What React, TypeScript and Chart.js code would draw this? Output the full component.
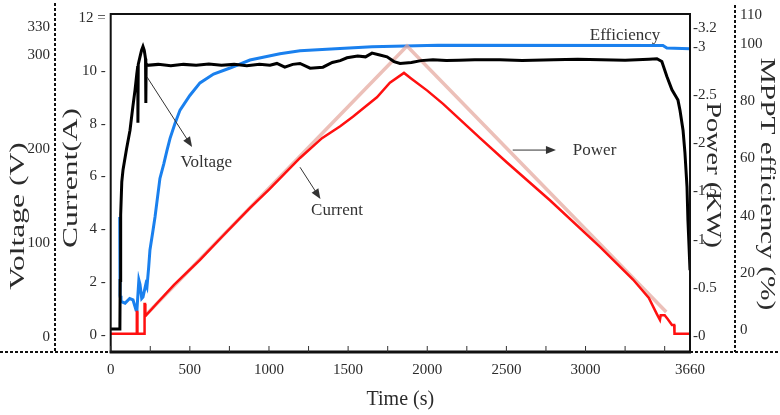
import React, { useEffect, useRef } from "react";
import { Chart, registerables } from "chart.js";
Chart.register(...registerables);

// ---- Data ----
const xTicks = [0, 250, 500, 750, 1000, 1250, 1500, 1750, 2000, 2250, 2500, 2750, 3000, 3250, 3500, 3660];
const xLabelled = [0, 500, 1000, 1500, 2000, 2500, 3000, 3660];
const voltageTicks = [0, 100, 200, 300, 330];
const currentTicks = [0, 2, 4, 6, 8, 10, 12];
const powerTicks = [0, 0.5, 1, 1.5, 2, 2.5, 3, 3.2];
const efficiencyTicks = [0, 20, 40, 60, 80, 100, 110];

const voltageTime = [0, 58, 60, 63, 70, 78, 100, 122, 140, 154, 165, 171, 172, 174, 185, 195, 204, 212, 220, 222, 224, 230, 300, 380, 460, 540, 620, 700, 780, 860, 940, 1006, 1050, 1100, 1150, 1196, 1260, 1341, 1400, 1450, 1493, 1560, 1610, 1651, 1700, 1746, 1790, 1828, 1900, 1960, 2036, 2120, 2200, 2300, 2459, 2600, 2800, 2950, 3100, 3250, 3400, 3451, 3482, 3514, 3546, 3584, 3597, 3616, 3628, 3641, 3647, 3654, 3660];
const voltageValues = [8.5, 8.5, 60, 130, 165, 178, 200, 220, 245, 263, 280, 288, 228, 290, 298, 305, 309, 305, 296, 249, 291, 289, 290, 288.5, 290, 289, 290.5, 289, 290, 288.5, 290, 289, 291, 287, 290, 291, 286, 287, 292, 294, 297, 299, 298, 302, 300, 298, 293, 291, 292, 294, 295, 294, 294.5, 295, 295, 294, 295, 295.5, 295, 294.5, 295.5, 296, 293, 277, 263, 252, 241, 220, 196, 160, 124, 96, 71];

const currentTime = [0, 164, 165, 168, 169, 212, 214, 217, 219, 300, 400, 564, 700, 880, 1000, 1196, 1335, 1450, 1530, 1600, 1682, 1764, 1853, 1900, 2000, 2100, 2334, 2500, 2775, 3093, 3300, 3400, 3450, 3470, 3475, 3500, 3520, 3546, 3560, 3562, 3660];
const currentValues = [0.05, 0.05, 0.87, 0.87, 0.05, 0.05, 1.17, 1.17, 0.72, 1.25, 1.9, 2.84, 3.7, 4.81, 5.5, 6.7, 7.45, 7.9, 8.26, 8.6, 9.0, 9.55, 9.92, 9.7, 9.25, 8.75, 7.45, 6.55, 5.1, 3.33, 2.1, 1.4, 0.8, 0.57, 0.75, 0.75, 0.6, 0.38, 0.38, 0.05, 0.05];

const powerTime = [217, 1872, 3510];
const powerValues = [0.21, 3.01, 0.25];

const efficiencyTime = [57, 59, 65, 91, 120, 141, 160, 166, 178, 185, 196, 204, 222, 229, 240, 248, 265, 280, 311, 335, 356, 375, 405, 438, 500, 564, 650, 754, 880, 1069, 1196, 1449, 1651, 2068, 3489, 3514, 3660];
const efficiencyValues = [39.5, 12, 10, 9.4, 11, 10.5, 7, 7.2, 17.5, 16, 11, 11.5, 16, 15, 22, 28, 34, 39.5, 53, 58, 62.9, 67, 72, 76.9, 82, 86.4, 89.5, 91.6, 94.4, 96.6, 97.6, 98.4, 99.0, 99.6, 99.5, 98.6, 98.3];

const FONT = "'Liberation Serif', 'DejaVu Serif', serif";
const TXT = "#2b2b2b";

function pts(xs: number[], ys: number[]) {
  return xs.map((x, i) => ({ x, y: ys[i] }));
}

function arrow(ctx: CanvasRenderingContext2D, x1: number, y1: number, x2: number, y2: number) {
  const ang = Math.atan2(y2 - y1, x2 - x1);
  const L = 10, W = 4;
  ctx.beginPath();
  ctx.moveTo(x1, y1);
  ctx.lineTo(x2 - L * Math.cos(ang) * 0.6, y2 - L * Math.sin(ang) * 0.6);
  ctx.stroke();
  ctx.beginPath();
  ctx.moveTo(x2, y2);
  ctx.lineTo(x2 - L * Math.cos(ang) + W * Math.sin(ang), y2 - L * Math.sin(ang) - W * Math.cos(ang));
  ctx.lineTo(x2 - L * Math.cos(ang) - W * Math.sin(ang), y2 - L * Math.sin(ang) + W * Math.cos(ang));
  ctx.closePath();
  ctx.fill();
}

function vtext(ctx: CanvasRenderingContext2D, s: string, x: number, y: number, rot: number, stretch: number) {
  ctx.save();
  ctx.translate(x, y);
  ctx.rotate(rot);
  ctx.scale(stretch, 1);
  ctx.fillText(s, 0, 0);
  ctx.restore();
}

const decor = {
  id: "decor",
  afterDatasetsDraw(chart: any) {
    const { ctx, chartArea: a, scales } = chart;
    const sx = scales.x, sI = scales.yI, sV = scales.yV, sE = scales.yE;
    ctx.save();
    // frame
    ctx.strokeStyle = "#111";
    ctx.lineWidth = 2;
    ctx.strokeRect(a.left, a.top, a.right - a.left, a.bottom - a.top);
    ctx.lineWidth = 3;
    ctx.beginPath();
    ctx.moveTo(a.left - 1, a.bottom);
    ctx.lineTo(a.right + 1, a.bottom);
    ctx.stroke();
    // inner x tick marks
    ctx.lineWidth = 1;
    ctx.strokeStyle = "#333";
    xTicks.forEach((v) => {
      if (v === 3660) return;
      const px = sx.getPixelForValue(v);
      ctx.beginPath();
      ctx.moveTo(px, a.bottom);
      ctx.lineTo(px, a.bottom - 6);
      ctx.stroke();
    });
    // dashed outer lines
    ctx.setLineDash([3, 2]);
    ctx.lineWidth = 2;
    ctx.strokeStyle = "#111";
    ctx.beginPath();
    ctx.moveTo(0, a.bottom);
    ctx.lineTo(a.left, a.bottom);
    ctx.moveTo(a.right, a.bottom);
    ctx.lineTo(chart.width, a.bottom);
    ctx.moveTo(sV.right, 3);
    ctx.lineTo(sV.right, a.bottom);
    ctx.moveTo(sE.left, 5);
    ctx.lineTo(sE.left, a.bottom);
    ctx.stroke();
    ctx.setLineDash([]);

    // annotations (in data coordinates: time vs current axis)
    const P = (t: number, i: number) => [sx.getPixelForValue(t), sI.getPixelForValue(i)];
    ctx.fillStyle = "#333";
    ctx.strokeStyle = "#333";
    ctx.lineWidth = 1;
    ctx.font = `17px ${FONT}`;
    ctx.textAlign = "center";
    ctx.textBaseline = "middle";
    let p = P(604, 6.51);
    ctx.fillText("Voltage", p[0], p[1]);
    let a1 = P(229, 9.77), a2 = P(514, 7.12);
    arrow(ctx, a1[0], a1[1], a2[0], a2[1]);
    p = P(3250, 11.35);
    ctx.fillText("Efficiency", p[0], p[1]);
    p = P(1430, 4.73);
    ctx.fillText("Current", p[0], p[1]);
    a1 = P(1196, 6.35); a2 = P(1325, 5.15);
    arrow(ctx, a1[0], a1[1], a2[0], a2[1]);
    ctx.textAlign = "left";
    p = P(2920, 7.0);
    ctx.fillText("Power", p[0], p[1]);
    a1 = P(2540, 7.0); a2 = P(2813, 7.0);
    arrow(ctx, a1[0], a1[1], a2[0], a2[1]);

    // axis titles
    ctx.fillStyle = TXT;
    ctx.textAlign = "center";
    ctx.font = `21px ${FONT}`;
    vtext(ctx, "Voltage (V)", 18, 216, -Math.PI / 2, 1.5);
    vtext(ctx, "Current(A)", 71, 178, -Math.PI / 2, 1.5);
    vtext(ctx, "Power (KW)", 713, 175, Math.PI / 2, 1.35);
    vtext(ctx, "MPPT efficiency (%)", 767, 184, Math.PI / 2, 1.4);
    ctx.font = `20px ${FONT}`;
    ctx.fillText("Time (s)", (a.left + a.right) / 2, 400);
    ctx.restore();
  },
};

const tickFont = { family: FONT, size: 15 };

export default function App() {
  const ref = useRef<HTMLCanvasElement | null>(null);
  useEffect(() => {
    document.body.style.margin = "0";
    if (!ref.current) return;
    const setTicks = (vals: number[]) => (s: any) => {
      s.ticks = vals.map((v) => ({ value: v }));
    };
    const chart = new Chart(ref.current, {
      type: "line",
      data: {
        datasets: [
          { label: "Current", data: pts(currentTime, currentValues), yAxisID: "yI", borderColor: "#ff1010", borderWidth: 2.5, pointRadius: 0, order: 0 },
          { label: "Voltage", data: pts(voltageTime, voltageValues), yAxisID: "yV", borderColor: "#000", borderWidth: 3, pointRadius: 0, order: 1 },
          { label: "Power", data: pts(powerTime, powerValues), yAxisID: "yP", borderColor: "rgba(228,165,155,0.7)", borderWidth: 3.5, pointRadius: 0, order: 2 },
          { label: "Efficiency", data: pts(efficiencyTime, efficiencyValues), yAxisID: "yE", borderColor: "#1a80ee", borderWidth: 3, pointRadius: 0, order: 3 },
        ],
      },
      options: {
        animation: false,
        responsive: false,
        parsing: false as any,
        layout: { padding: { top: 14, left: 0, right: 0, bottom: 0 } },
        plugins: { legend: { display: false }, tooltip: { enabled: false } },
        scales: {
          x: {
            type: "linear",
            min: 0,
            max: 3660,
            afterBuildTicks: setTicks(xTicks),
            afterFit: (s: any) => { s.height = 63; },
            grid: { display: false, drawTicks: false },
            border: { display: false },
            ticks: {
              autoSkip: false,
              maxRotation: 0,
              padding: 9,
              color: TXT,
              font: tickFont,
              callback: (v: any) => (xLabelled.includes(Number(v)) ? String(v) : ""),
            },
          },
          yV: {
            type: "linear",
            position: "left",
            weight: 1,
            min: -16,
            max: 343.6,
            afterBuildTicks: setTicks(voltageTicks),
            afterFit: (s: any) => { s.width = 55; },
            grid: { display: false, drawTicks: false },
            border: { display: false },
            ticks: { padding: 5, color: TXT, font: tickFont, callback: (v: any) => String(v) },
          },
          yI: {
            type: "linear",
            position: "left",
            weight: 0,
            min: -0.643,
            max: 12.15,
            afterBuildTicks: setTicks(currentTicks),
            afterFit: (s: any) => { s.width = 55.7; },
            grid: { display: false, drawTicks: false },
            border: { display: false },
            ticks: { padding: 5, color: TXT, font: tickFont, callback: (v: any) => (Number(v) === 12 ? "12 =" : `${v} -`) },
          },
          yP: {
            type: "linear",
            position: "right",
            weight: 0,
            min: -0.166,
            max: 3.343,
            afterBuildTicks: setTicks(powerTicks),
            afterFit: (s: any) => { s.width = 45; },
            grid: { display: false, drawTicks: false },
            border: { display: false },
            ticks: { padding: 3, color: TXT, font: tickFont, callback: (v: any) => `-${v}` },
          },
          yE: {
            type: "linear",
            position: "right",
            weight: 1,
            min: -7.69,
            max: 110.49,
            afterBuildTicks: setTicks(efficiencyTicks),
            afterFit: (s: any) => { s.width = 45; },
            grid: { display: false, drawTicks: false },
            border: { display: false },
            ticks: { padding: 5, color: TXT, font: tickFont, callback: (v: any) => String(v) },
          },
        },
      },
      plugins: [decor],
    });
    return () => chart.destroy();
  }, []);
  return (
    <div style={{ position: "fixed", left: 0, top: 0, width: 780, height: 415, background: "#fff" }}>
      <canvas ref={ref} width={780} height={415} />
    </div>
  );
}
